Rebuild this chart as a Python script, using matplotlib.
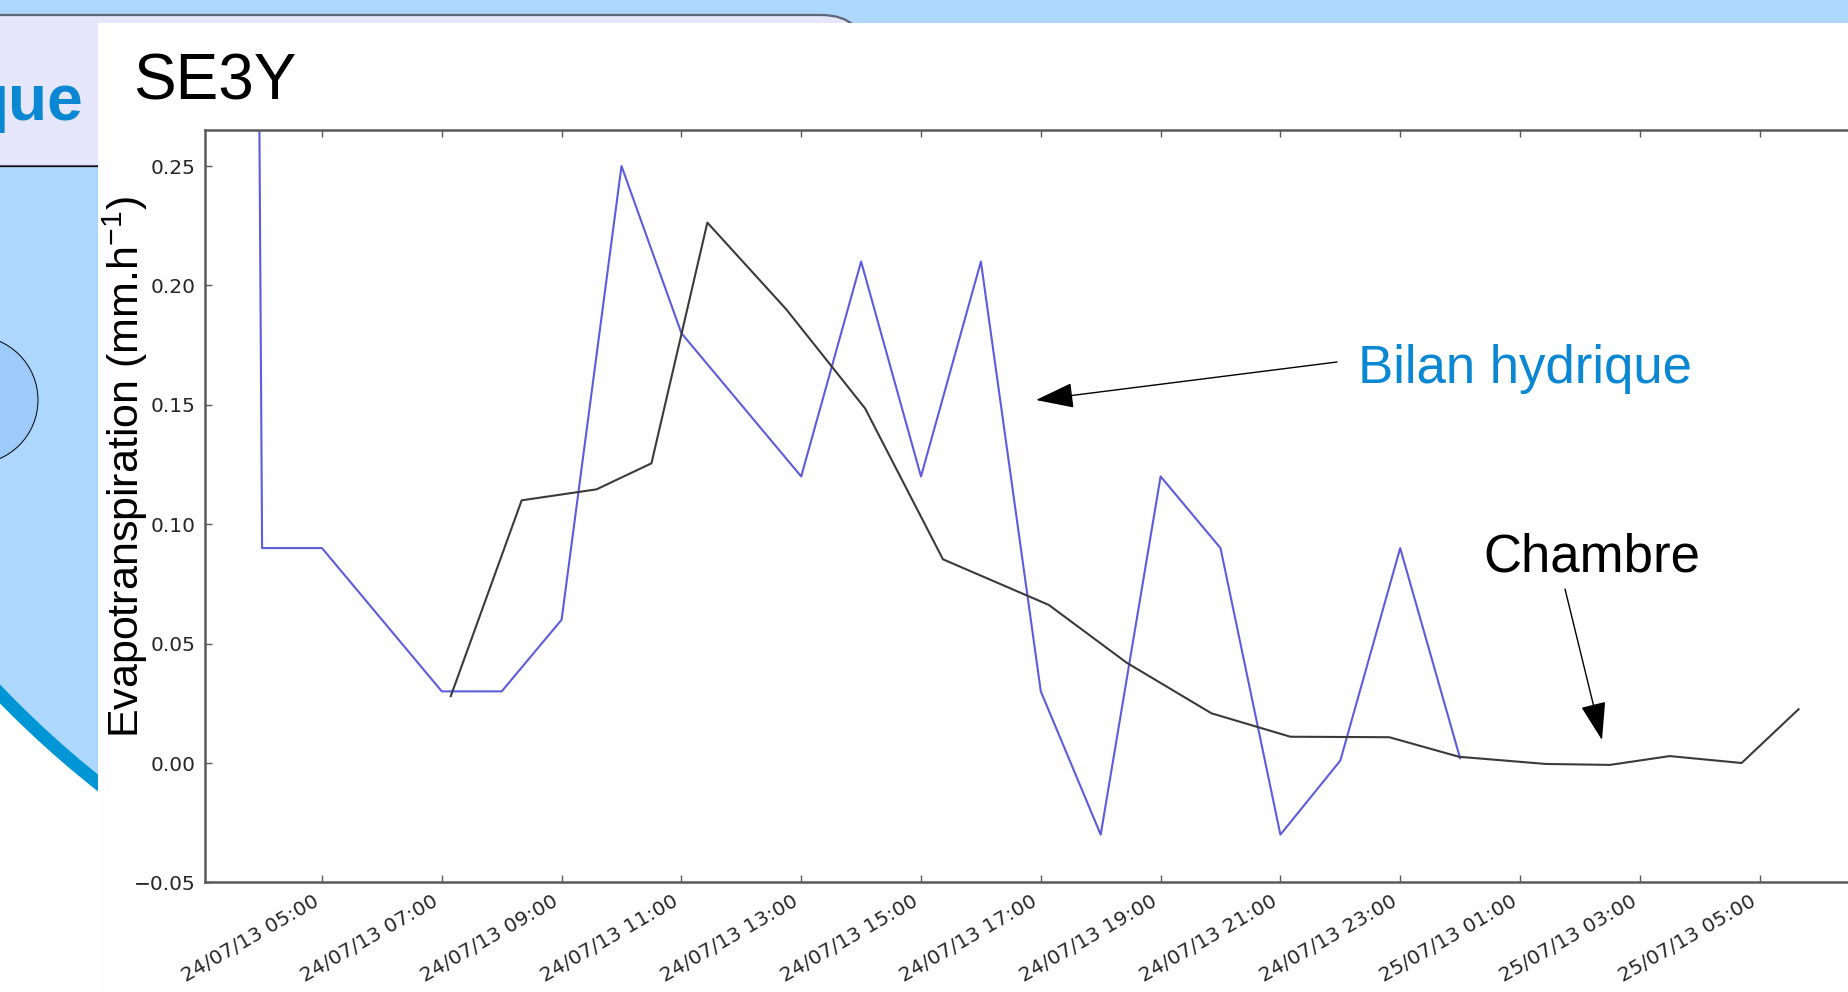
import matplotlib
matplotlib.use("Agg")
import matplotlib.pyplot as plt
import matplotlib.dates as mdates
from matplotlib.patches import Rectangle, Circle, FancyBboxPatch
from matplotlib import font_manager
import pandas as pd

# ---------------- data ----------------
bilan_times = ["2013-07-24 03:00", "2013-07-24 04:00", "2013-07-24 05:00", "2013-07-24 07:00",
               "2013-07-24 08:00", "2013-07-24 09:00", "2013-07-24 10:00", "2013-07-24 11:00",
               "2013-07-24 13:00", "2013-07-24 14:00", "2013-07-24 15:00", "2013-07-24 16:00",
               "2013-07-24 17:00", "2013-07-24 18:00", "2013-07-24 19:00", "2013-07-24 20:00",
               "2013-07-24 21:00", "2013-07-24 22:00", "2013-07-24 23:00", "2013-07-25 00:00"]
bilan_values = [4.0, 0.09, 0.09, 0.03, 0.03, 0.06, 0.25, 0.18, 0.12, 0.21, 0.12, 0.21,
                0.03, -0.03, 0.12, 0.09, -0.03, 0.001, 0.09, 0.002]

chambre_times = ["2013-07-24 07:09", "2013-07-24 08:20", "2013-07-24 09:35", "2013-07-24 10:30",
                 "2013-07-24 11:26", "2013-07-24 12:45", "2013-07-24 14:04", "2013-07-24 15:22",
                 "2013-07-24 17:08", "2013-07-24 18:26", "2013-07-24 19:51", "2013-07-24 21:10",
                 "2013-07-24 22:49", "2013-07-24 23:59", "2013-07-25 01:26", "2013-07-25 02:30",
                 "2013-07-25 03:30", "2013-07-25 04:42", "2013-07-25 05:39"]
chambre_values = [0.028, 0.110, 0.1146, 0.1255, 0.2263, 0.190, 0.1485, 0.0853, 0.0662, 0.042,
                  0.0208, 0.011, 0.0108, 0.0026, -0.0004, -0.0008, 0.0029, 0.0, 0.0225]

ytick_values = [-0.05, 0.0, 0.05, 0.10, 0.15, 0.20, 0.25]
x_start = "2013-07-24 03:03"
x_end = "2013-07-25 06:45"
y_min, y_max = -0.05, 0.265

title_text = "SE3Y"
ylabel_text = "Evapotranspiration (mm.h$^{-1}$)"
label_bilan = "Bilan hydrique"
label_chambre = "Chambre"
header_fragment = "que"

# ---------------- setup ----------------
W, H, DPI = 1848, 992, 100
plt.rcParams["mathtext.fontset"] = "custom"
plt.rcParams["mathtext.rm"] = "Liberation Sans"
plt.rcParams["mathtext.default"] = "regular"

names = {f.name for f in font_manager.fontManager.ttflist}
narrow = "Liberation Sans Narrow" in names
ylab_family = "Liberation Sans Narrow" if narrow else "Liberation Sans"
ylab_size = 34 if narrow else 31

fig = plt.figure(figsize=(W / DPI, H / DPI), dpi=DPI)
fig.patch.set_facecolor("white")

# background "slide" layer in pixel coordinates
bg = fig.add_axes([0, 0, 1, 1])
bg.set_xlim(0, W)
bg.set_ylim(H, 0)
bg.axis("off")
bg.set_zorder(0)

LIGHT_BLUE = "#AED7FD"
bg.add_patch(Circle((720, 0), 1000, facecolor=LIGHT_BLUE, edgecolor="#0096D6", lw=9.5, zorder=1))
bg.add_patch(Circle((-26, 400), 64, facecolor="#9CCBFA", edgecolor="black", lw=0.7, zorder=2))
bg.add_patch(Rectangle((0, 0), W, 23, facecolor=LIGHT_BLUE, edgecolor="none", zorder=3))
bg.add_patch(FancyBboxPatch((-100, 15), 966, 151, boxstyle="round,pad=0,rounding_size=45",
                            facecolor="#E6E6FA", edgecolor="#5f6675", lw=1.6, zorder=4))
bg.plot([0, 98], [166, 166], color="black", lw=0.8, zorder=5)
bg.text(83, 120, header_fragment, ha="right", va="baseline", fontsize=46, fontweight="bold",
        color="#0A87D2", family="Liberation Sans", zorder=5)
bg.add_patch(Rectangle((98, 23), W - 98, H - 23, facecolor="#FEFEFE", edgecolor="none", zorder=6))

bg.text(133, 99, title_text, ha="left", va="baseline", fontsize=46, family="Liberation Sans",
        color="black", zorder=7)
bg.text(125, 467, ylabel_text, rotation=90, ha="center", va="center", fontsize=ylab_size,
        family=ylab_family, color="black", zorder=7)
bg.text(1358, 383, label_bilan, ha="left", va="baseline", fontsize=38, family="Liberation Sans",
        color="#0A87D2", zorder=7)
bg.text(1483, 572, label_chambre, ha="left", va="baseline", fontsize=38, family="Liberation Sans",
        color="black", zorder=7)

# ---------------- chart axes ----------------
t0 = pd.Timestamp(x_start)
t1 = pd.Timestamp(x_end)
ref = pd.Timestamp("2013-07-24 05:00")
px_per_hour = 59.9
left_px = 322 + (t0 - ref).total_seconds() / 3600 * px_per_hour
right_px = 322 + (t1 - ref).total_seconds() / 3600 * px_per_hour
top_px, bottom_px = 130.2, 882.4

ax = fig.add_axes([left_px / W, 1 - bottom_px / H, (right_px - left_px) / W, (bottom_px - top_px) / H])
ax.set_zorder(2)
ax.patch.set_alpha(0)

bt = pd.to_datetime(bilan_times)
ct = pd.to_datetime(chambre_times)
ax.plot(bt, bilan_values, color="#5c5cdc", lw=1.5, zorder=2)
ax.plot(ct, chambre_values, color="#3a3a3a", lw=1.5, zorder=3)

ax.set_xlim(t0, t1)
ax.set_ylim(y_min, y_max)
ax.set_yticks(ytick_values)
ax.yaxis.set_major_formatter(
    matplotlib.ticker.FuncFormatter(lambda v, p: ("%.2f" % v).replace("-", "\u2212")))
ax.xaxis.set_major_locator(mdates.HourLocator(byhour=range(1, 24, 2)))
ax.xaxis.set_major_formatter(mdates.DateFormatter("%d/%m/%y %H:%M"))

for s in ax.spines.values():
    s.set_color("#5a5a5a")
    s.set_linewidth(1.8)
ax.tick_params(direction="in", length=5, width=1, color="#5a5a5a", top=True, right=True,
               labelsize=14.5, labelcolor="#262626", pad=7)
for lbl in ax.get_xticklabels():
    lbl.set_rotation(30)
    lbl.set_ha("right")

# ---------------- annotation arrows ----------------
arrow_style = dict(arrowstyle="-|>,head_length=0.6,head_width=0.2", mutation_scale=40,
                   lw=1.0, color="black", shrinkA=0, shrinkB=0)
bg.annotate("", xy=(1036, 400), xytext=(1337, 362), arrowprops=arrow_style, zorder=8)
bg.annotate("", xy=(1602, 740), xytext=(1565, 589), arrowprops=arrow_style, zorder=8)

fig.savefig("out.png", dpi=DPI)
